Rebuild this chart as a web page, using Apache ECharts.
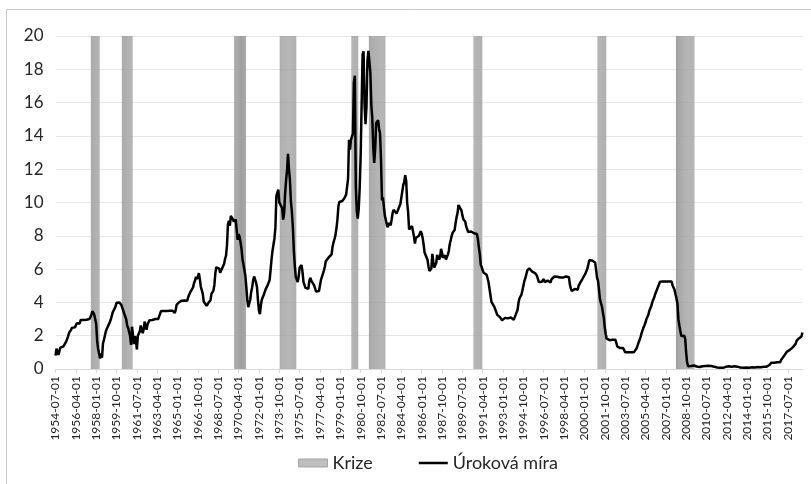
<!DOCTYPE html>
<html><head><meta charset="utf-8">
<script src="https://cdn.jsdelivr.net/npm/echarts@6/dist/echarts.min.js"></script>
<style>html,body{margin:0;padding:0;background:#fff}#c{width:811px;height:484px}</style>
</head><body><div id="c"></div>
<script>
// First month of the series
const startYear = 1954, startMonth = 7;

// Monthly interest rate (Úroková míra), 1954-07 .. 2018-10
const rates = [
  0.80,1.22,1.07,0.85,0.83,1.28,
  1.39,1.29,1.35,1.43,1.43,1.64,1.68,1.96,2.18,2.24,2.35,2.48,
  2.45,2.50,2.50,2.62,2.75,2.71,2.75,2.73,2.95,2.96,2.88,2.94,
  2.84,3.00,2.96,3.00,3.00,3.00,2.99,3.24,3.47,3.50,3.28,2.98,
  2.72,1.67,1.20,1.26,0.63,0.93,0.68,1.53,1.76,1.80,2.27,2.42,
  2.48,2.43,2.80,2.96,2.90,3.39,3.47,3.50,3.76,3.98,4.00,3.99,
  3.99,3.97,3.84,3.92,3.85,3.32,3.23,2.98,2.60,2.47,2.44,1.98,
  1.45,2.54,2.02,1.49,1.98,1.73,1.17,2.00,1.88,2.26,2.61,2.33,
  2.15,2.37,2.85,2.78,2.36,2.68,2.71,2.93,2.90,2.90,2.94,2.93,
  2.92,3.00,2.98,2.90,3.00,2.99,3.02,3.49,3.48,3.50,3.48,3.38,
  3.48,3.48,3.43,3.47,3.50,3.50,3.42,3.50,3.45,3.36,3.52,3.85,
  3.90,3.98,4.04,4.09,4.10,4.04,4.09,4.12,4.01,4.08,4.10,4.32,
  4.42,4.60,4.65,4.67,4.90,5.17,5.30,5.53,5.40,5.53,5.76,5.40,
  4.94,5.00,4.53,4.05,3.94,3.98,3.79,3.90,3.99,3.88,4.13,4.51,
  4.61,4.71,5.05,5.76,6.11,6.07,6.02,6.03,5.78,5.91,5.82,6.02,
  6.30,6.61,6.79,7.41,8.67,8.90,8.61,9.19,9.15,9.00,8.85,8.97,
  8.98,8.98,7.76,8.10,7.95,7.61,7.21,6.61,6.29,6.20,5.60,4.90,
  4.14,3.72,3.71,4.16,4.63,4.91,5.31,5.56,5.55,5.20,4.91,4.14,
  3.50,3.29,3.83,4.17,4.27,4.46,4.55,4.80,4.87,5.04,5.06,5.33,
  5.94,6.58,7.09,7.12,7.84,8.49,10.40,10.50,10.78,10.01,10.03,9.95,
  9.65,8.97,9.35,10.51,11.31,11.93,12.92,12.01,11.34,10.06,9.45,8.53,
  7.13,6.24,5.54,5.49,5.22,5.55,6.10,6.14,6.24,5.82,5.22,5.20,
  4.87,4.77,4.84,4.82,5.29,5.48,5.31,5.29,5.25,5.02,4.95,4.65,
  4.61,4.68,4.69,4.73,5.35,5.39,5.42,5.90,6.14,6.47,6.51,6.56,
  6.70,6.78,6.79,6.89,7.36,7.60,7.81,8.04,8.45,8.96,9.76,10.03,
  10.07,10.06,10.09,10.01,10.24,10.29,10.47,10.94,11.43,13.77,13.18,13.78,
  13.82,14.13,17.19,17.61,10.98,9.47,9.03,9.61,10.87,12.81,15.85,18.90,
  19.08,15.93,14.70,15.72,18.52,19.10,19.04,17.82,15.87,15.08,13.31,12.37,
  13.22,14.78,14.68,14.94,14.45,14.15,12.59,10.12,10.31,9.71,9.20,8.95,
  8.68,8.51,8.77,8.80,8.63,8.98,9.37,9.56,9.45,9.48,9.34,9.47,
  9.56,9.59,9.91,10.29,10.32,11.06,11.23,11.64,11.30,9.99,9.43,8.38,
  8.35,8.50,8.58,8.27,7.97,7.53,7.88,7.90,7.92,7.99,8.05,8.27,
  8.14,7.86,7.48,6.99,6.85,6.92,6.56,6.17,5.89,5.85,6.04,6.91,
  6.43,6.10,6.13,6.37,6.85,6.73,6.58,6.73,7.22,7.29,6.69,6.77,
  6.83,6.58,6.58,6.87,7.09,7.51,7.75,8.01,8.19,8.30,8.35,8.76,
  9.12,9.36,9.85,9.84,9.81,9.53,9.24,8.99,9.02,8.84,8.55,8.45,
  8.23,8.24,8.28,8.26,8.18,8.29,8.15,8.13,8.20,8.11,7.81,7.31,
  6.91,6.25,6.12,5.91,5.78,5.90,5.82,5.66,5.45,5.21,4.81,4.43,
  4.03,4.06,3.98,3.73,3.82,3.76,3.25,3.30,3.22,3.10,3.09,2.92,
  3.02,3.03,3.07,2.96,3.00,3.04,3.06,3.03,3.09,2.99,3.02,2.96,
  3.05,3.25,3.34,3.56,4.01,4.25,4.26,4.47,4.73,4.76,5.29,5.45,
  5.53,5.92,5.98,6.05,6.01,6.00,5.85,5.74,5.80,5.76,5.80,5.60,
  5.56,5.22,5.31,5.22,5.24,5.27,5.40,5.22,5.30,5.24,5.31,5.29,
  5.25,5.19,5.39,5.51,5.50,5.56,5.52,5.54,5.54,5.50,5.52,5.50,
  5.56,5.51,5.49,5.45,5.49,5.56,5.54,5.55,5.51,5.07,4.83,4.68,
  4.63,4.76,4.81,4.74,4.74,4.76,4.99,5.07,5.22,5.20,5.42,5.30,
  5.45,5.73,5.85,6.02,6.27,6.53,6.54,6.50,6.52,6.51,6.51,6.40,
  5.98,5.49,5.31,4.80,4.21,3.97,3.77,3.65,3.07,2.49,2.09,1.82,
  1.73,1.74,1.73,1.75,1.75,1.75,1.73,1.74,1.75,1.75,1.34,1.24,
  1.24,1.26,1.25,1.26,1.26,1.22,1.01,1.03,1.01,1.01,1.00,0.98,
  1.00,1.01,1.00,1.00,1.00,1.03,1.26,1.43,1.61,1.76,1.93,2.16,
  2.28,2.50,2.63,2.79,3.00,3.04,3.26,3.50,3.62,3.78,4.00,4.16,
  4.29,4.49,4.59,4.79,4.94,4.99,5.24,5.25,5.25,5.25,5.25,5.24,
  5.25,5.26,5.26,5.25,5.25,5.25,5.26,5.02,4.94,4.76,4.49,4.24,
  3.94,2.98,2.61,2.28,1.98,2.00,2.01,2.00,1.81,0.97,0.39,0.16,
  0.15,0.22,0.18,0.15,0.18,0.21,0.16,0.16,0.15,0.12,0.12,0.12,
  0.11,0.13,0.16,0.20,0.20,0.18,0.18,0.19,0.19,0.19,0.19,0.18,
  0.17,0.16,0.14,0.10,0.09,0.09,0.07,0.10,0.08,0.07,0.08,0.07,
  0.08,0.10,0.13,0.14,0.16,0.16,0.16,0.13,0.14,0.16,0.16,0.16,
  0.14,0.15,0.14,0.15,0.11,0.09,0.09,0.08,0.08,0.09,0.08,0.09,
  0.07,0.07,0.08,0.09,0.09,0.10,0.09,0.09,0.09,0.09,0.09,0.12,
  0.11,0.11,0.11,0.12,0.12,0.13,0.13,0.14,0.14,0.12,0.12,0.24,
  0.34,0.38,0.36,0.37,0.37,0.38,0.39,0.40,0.40,0.40,0.41,0.54,
  0.65,0.66,0.79,0.90,0.91,1.04,1.15,1.16,1.15,1.15,1.16,1.30,
  1.41,1.42,1.51,1.69,1.70,1.82,1.91,1.91,1.95,2.19
];

// Crisis periods (Krize), first and last month inclusive
const recessions = [
  ["1957-08","1958-04"],["1960-04","1961-02"],["1969-12","1970-11"],
  ["1973-11","1975-03"],["1980-01","1980-07"],["1981-07","1982-11"],
  ["1990-07","1991-03"],["2001-03","2001-11"],["2007-12","2009-06"]
];
const crisisHeight = 20;

const seriesNames = ["Krize", "Úroková míra"];

// Category labels
const categories = rates.map((_, i) => {
  const m = startMonth - 1 + i;
  const y = startYear + Math.floor(m / 12);
  const mm = (m % 12) + 1;
  return y + "-" + String(mm).padStart(2, "0") + "-01";
});
const crisis = categories.map(c => {
  const ym = c.slice(0, 7);
  return recessions.some(r => ym >= r[0] && ym <= r[1]) ? crisisHeight : "-";
});

const FONT = "Lato";
const chart = echarts.init(document.getElementById("c"), null, {renderer: "canvas"});
chart.setOption({
  animation: false,
  backgroundColor: "#fff",
  graphic: [{
    type: "rect", silent: true, z: -10,
    shape: {x: 6.5, y: 9.5, width: 900, height: 600},
    style: {fill: null, stroke: "#c8c8c8", lineWidth: 1}
  }],
  grid: {left: 55.5, right: 8.6, top: 36, bottom: 115, containLabel: false},
  legend: {
    left: 293, top: 449,
    itemWidth: 29, itemHeight: 8, itemGap: 46,
    textStyle: {fontFamily: FONT, fontSize: 18, color: "#262626"},
    data: [
      {name: seriesNames[0], icon: "rect", itemStyle: {color: "#bfbfbf", borderColor: "#a5a5a5", borderWidth: 1}},
      {name: seriesNames[1], icon: "path://M0 0H30V2.6H0Z", itemStyle: {color: "#000", borderWidth: 0}}
    ]
  },
  xAxis: {
    type: "category",
    data: categories,
    boundaryGap: false,
    axisLine: {lineStyle: {color: "#d9d9d9", width: 1}},
    axisTick: {show: true, interval: 20, length: 4, lineStyle: {color: "#d9d9d9"}},
    axisLabel: {interval: 20, rotate: 90, margin: 7, fontFamily: FONT, fontSize: 12, color: "#262626"},
    splitLine: {show: false}
  },
  yAxis: {
    type: "value",
    min: 0, max: 20, interval: 2,
    axisLine: {show: false},
    axisTick: {show: false},
    axisLabel: {margin: 12, fontFamily: FONT, fontSize: 17, color: "#262626"},
    splitLine: {lineStyle: {color: "#e6e6e6", width: 1}}
  },
  series: [
    {
      name: seriesNames[0], type: "bar", data: crisis,
      barWidth: "100%", barGap: "-100%",
      itemStyle: {color: "#9f9f9f"},
      z: 1
    },
    {
      name: seriesNames[1], type: "line", data: rates,
      symbol: "none", showSymbol: false,
      lineStyle: {color: "#000", width: 2.5},
      itemStyle: {color: "#000"},
      z: 3
    }
  ]
});
</script></body></html>
